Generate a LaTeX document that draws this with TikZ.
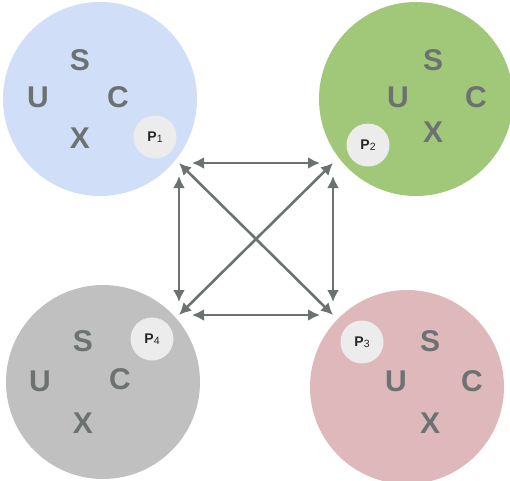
\documentclass[tikz,border=0pt]{standalone}
\usepackage{fontspec}
\setmainfont{Liberation Sans}
\usetikzlibrary{arrows.meta}

\definecolor{lettergray}{RGB}{108,114,114}
\definecolor{blueset}{RGB}{208,223,247}
\definecolor{greenset}{RGB}{160,200,120}
\definecolor{grayset}{RGB}{192,192,192}
\definecolor{pinkset}{RGB}{222,184,187}
\definecolor{procfill}{RGB}{236,236,236}

\newcommand{\procname}[1]{P\raisebox{-1.5pt}{\fontsize{10.5}{10.5}\selectfont\mdseries #1}}

\begin{document}
\begin{tikzpicture}[x=1pt,y=-1pt,
  group/.style={circle, minimum size=194pt, inner sep=0pt},
  letter/.style={text=lettergray, font=\fontsize{30}{30}\selectfont\bfseries},
  proc/.style={circle, fill=procfill, minimum size=43pt, inner sep=0pt,
    text=black!85, font=\fontsize{14}{14}\selectfont\bfseries},
  link/.style={draw=lettergray, line width=2.6pt,
    {Latex[length=12pt,width=12pt]}-{Latex[length=12pt,width=12pt]}}]
\useasboundingbox (0,0) rectangle (510,480);

% the four groups
\node[group, fill=blueset] (g1) at (100,99) {};
\node[group, fill=greenset] (g2) at (416,99) {};
\node[group, fill=pinkset] (g3) at (407,387) {};
\node[group, fill=grayset] (g4) at (103,382) {};

% blue
\node[letter] (s1) at (80,60) {S};
\node[letter] (u1) at (38,97) {U};
\node[letter] (c1) at (118,97) {C};
\node[letter] (x1) at (80,138) {X};
\node[proc] (p1) at (155,137) {\procname{1}};

% green
\node[letter] (s2) at (433,60) {S};
\node[letter] (u2) at (398,97) {U};
\node[letter] (c2) at (476,97) {C};
\node[letter] (x2) at (433,132) {X};
\node[proc] (p2) at (368,145) {\procname{2}};

% pink
\node[letter] (s3) at (430,341) {S};
\node[letter] (u3) at (396,381) {U};
\node[letter] (c3) at (472,381) {C};
\node[letter] (x3) at (430,423) {X};
\node[proc] (p3) at (362,342) {\procname{3}};

% gray
\node[letter] (s4) at (83,341) {S};
\node[letter] (u4) at (40,381) {U};
\node[letter] (c4) at (120,379) {C};
\node[letter] (x4) at (83,423) {X};
\node[proc] (p4) at (152,339) {\procname{4}};

% arrows
\coordinate (tl) at (179,163);
\coordinate (tr) at (333,163);
\coordinate (br) at (333,315);
\coordinate (bl) at (179,315);
\draw[link, shorten <=13pt, shorten >=13pt] (tl) -- (tr);
\draw[link, shorten <=13pt, shorten >=13pt] (bl) -- (br);
\draw[link, shorten <=13pt, shorten >=13pt] (tl) -- (bl);
\draw[link, shorten <=13pt, shorten >=13pt] (tr) -- (br);
\draw[link] (tl) -- (br);
\draw[link] (tr) -- (bl);
\end{tikzpicture}
\end{document}
